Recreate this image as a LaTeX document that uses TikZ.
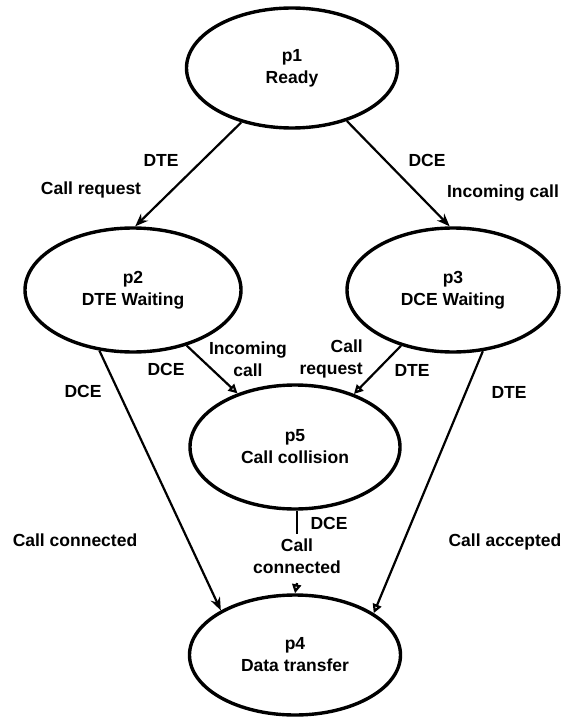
\documentclass[tikz,border=0pt]{standalone}
\usepackage{fontspec}
\setmainfont{Liberation Sans}
\usetikzlibrary{shapes.geometric,arrows.meta}
\begin{document}
\begin{tikzpicture}[x=1pt,y=-1pt,
  txt/.style={font=\fontsize{17.5}{22}\selectfont\bfseries},
  state/.style={ellipse,draw,line width=3.4pt,minimum width=211pt,minimum height=122pt,
    inner sep=0pt,align=center,txt},
  lbl/.style={txt,align=center,inner sep=1pt},
  tr/.style={line width=2.2pt,-{Stealth[length=13pt,width=10pt]}},
  tro/.style={line width=2.2pt,-{Triangle[open,length=9pt,width=9pt]}}]
\useasboundingbox (0,0) rectangle (568,722);

% states
\node[state,minimum height=120pt] (p1) at (292,68) {p1\\Ready};
\node[state,minimum width=216pt,minimum height=124pt] (p2) at (133,290) {p2\\DTE Waiting};
\node[state,minimum width=212pt,minimum height=124pt] (p3) at (453,290) {p3\\DCE Waiting};
\node[state,minimum width=210pt,minimum height=124pt] (p5) at (295,447) {p5\\Call collision};
\node[state,minimum height=120pt] (p4) at (295,655) {p4\\Data transfer};

% transitions
\draw[tr] (p1.227) -- (p2.88);
\draw[tr] (p1.316) -- (p3.93);
\draw[tro] (p2.314) -- (p5.137);
\draw[tro] (p3.227) -- (p5.42);
\draw[tr] (p2.241) -- (p4.149);
\draw[tro] (p3.296) -- (p4.28);
\node[lbl] (l54) at (297,556) {Call\\connected};
\coordinate (c54) at (297,511);
\coordinate (c54b) at (297,534);
\coordinate (c54c) at (297,583);
\draw[line width=2.2pt] (c54) -- (c54b);
\draw[tro] (c54c) -- (p4.north);

% transition labels
\node[lbl] (a1) at (161,160) {DTE};
\node[lbl] (a2) at (91,190) {Call request};
\node[lbl] (b1) at (427,160) {DCE};
\node[lbl] (b2) at (503,193) {Incoming call};
\node[lbl] (c1) at (166,369) {DCE};
\node[lbl] (c2) at (248,359) {Incoming\\call};
\node[lbl,align=right,anchor=east] (d2) at (364,359) {Call\\request};
\node[lbl] (d1) at (412,370) {DTE};
\node[lbl] (e1) at (83,391) {DCE};
\node[lbl] (e2) at (75,540) {Call connected};
\node[lbl] (f1) at (509,392) {DTE};
\node[lbl] (f2) at (505,542) {Call accepted};
\node[lbl] (g1) at (329,523) {DCE};
\end{tikzpicture}
\end{document}
